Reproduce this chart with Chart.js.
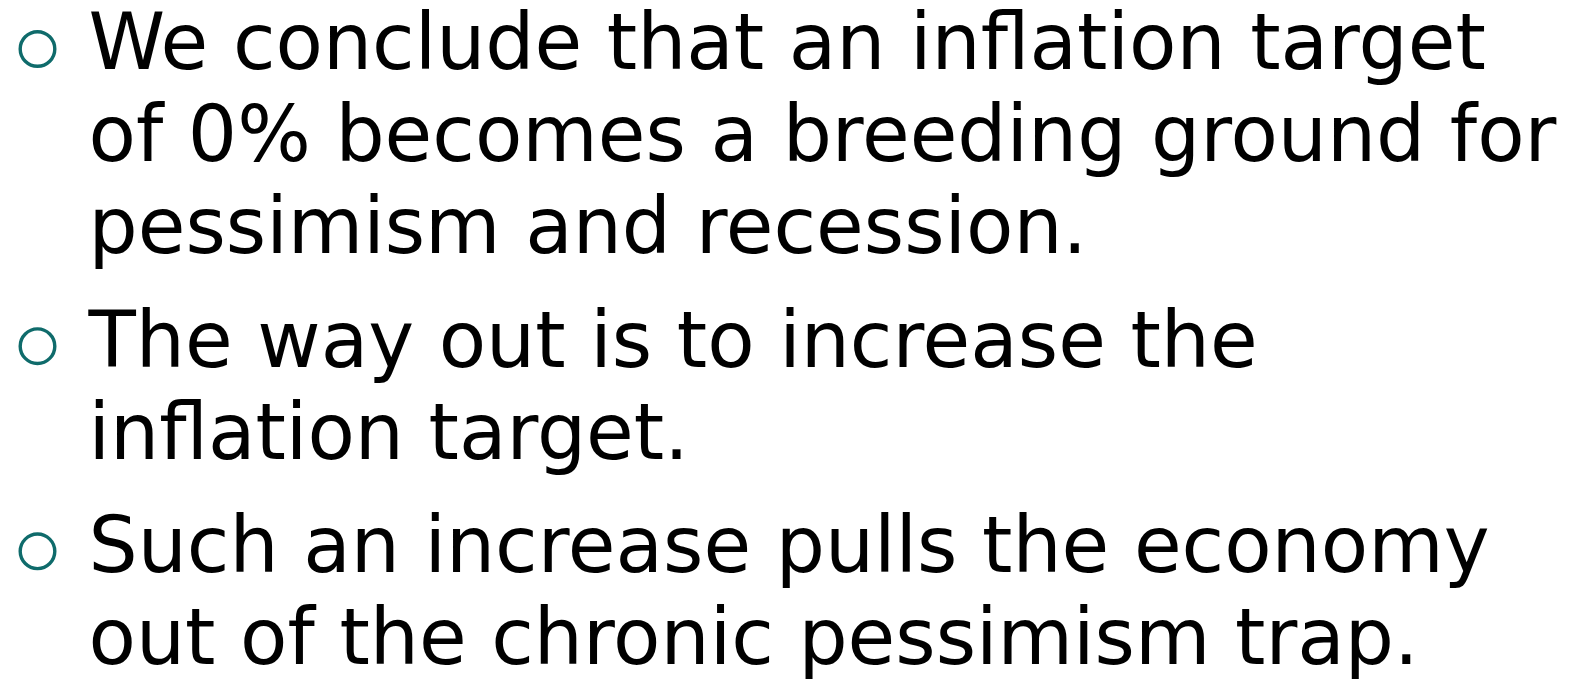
<!DOCTYPE html>
<html>
<head>
<meta charset="utf-8">
<script src="https://cdn.jsdelivr.net/npm/chart.js@4.4.1/dist/chart.umd.min.js"></script>
<style>
  html, body { margin: 0; padding: 0; background: #ffffff; }
  #wrap { position: relative; width: 1587px; height: 679px; overflow: hidden; }
  #c { position: absolute; left: 0; top: 0; }
  .ln { position: absolute; white-space: nowrap; font-family: "DejaVu Sans", Verdana, sans-serif;
        font-size: 77.5px; line-height: 77.5px; color: #000000; }
</style>
</head>
<body>
<div id="wrap"><canvas id="c" width="1587" height="679"></canvas></div>
<script>
// Bullet paragraphs, one array of visual lines each
const para1 = ["We conclude that an inflation target", "of 0% becomes a breeding ground for", "pessimism and recession."];
const para2 = ["The way out is to increase the", "inflation target."];
const para3 = ["Such an increase pulls the economy", "out of the chronic pessimism trap."];
const paragraphs = [para1, para2, para3];

// Layout (in line units): extra gap between paragraphs
const paraGap = 0.23;

// Row positions of each line and of each bullet
const rowOfLine = [];
const bulletRows = [];
let r = 0;
paragraphs.forEach((p, i) => {
  if (i > 0) r += paraGap;
  bulletRows.push(r);
  p.forEach(t => { rowOfLine.push({ text: t, row: r }); r += 1; });
});
const lastRow = r - 1;

const bulletPoints = bulletRows.map(y => ({ x: 0, y: y }));

const placeText = {
  id: 'placeText',
  afterRender(chart) {
    if (chart.$placed) return;
    chart.$placed = true;
    const xs = chart.scales.x, ys = chart.scales.y;
    const wrap = document.getElementById('wrap');
    const indent = 51;
    const fs = 77.5;
    rowOfLine.forEach(l => {
      const cy = ys.getPixelForValue(l.row);
      const baseline = cy + 21;
      const d = document.createElement('div');
      d.className = 'ln';
      d.textContent = l.text;
      d.style.left = (xs.getPixelForValue(0) + indent) + 'px';
      d.style.top = (baseline - 0.846 * fs) + 'px';
      wrap.appendChild(d);
    });
  }
};

new Chart(document.getElementById('c'), {
  type: 'scatter',
  data: {
    datasets: [{
      data: bulletPoints,
      pointStyle: 'circle',
      pointRadius: 17.3,
      pointHoverRadius: 17.3,
      borderWidth: 3.4,
      borderColor: '#0f6b6b',
      backgroundColor: 'rgba(0,0,0,0)',
      clip: false
    }]
  },
  options: {
    responsive: false,
    animation: false,
    events: [],
    layout: { padding: { left: 37.5, right: 0, top: 49, bottom: 679 - 49 - lastRow * 92 } },
    plugins: { legend: { display: false }, tooltip: { enabled: false } },
    scales: {
      x: { type: 'linear', display: false, min: 0, max: 1 },
      y: { type: 'linear', display: false, reverse: true, min: 0, max: lastRow }
    }
  },
  plugins: [placeText]
});
</script>
</body>
</html>
